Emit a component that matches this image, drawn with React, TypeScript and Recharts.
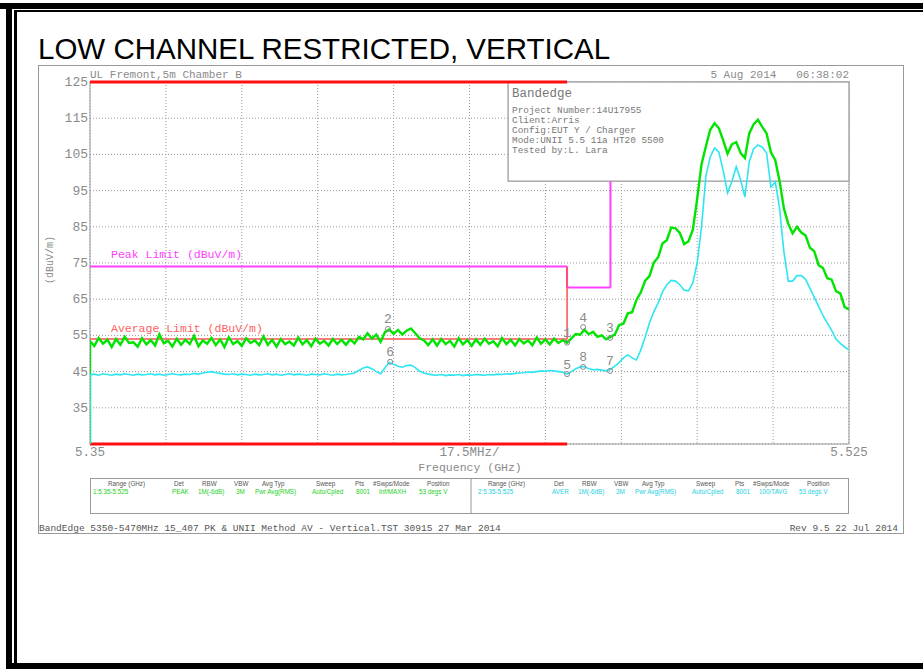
import React from 'react';
import {
  ComposedChart,
  Line,
  XAxis,
  YAxis,
  CartesianGrid,
  ReferenceLine,
  ReferenceArea,
  ReferenceDot,
} from 'recharts';

// sweep: 5.350 .. 5.525 GHz, one reading per MHz
const START_GHZ = 5.35;
const STEP_GHZ = 0.001;

// trace 1, peak detector (dBuV/m)
const PEAK_TRACE = [
  53.4, 52.1, 54.3, 52.7, 53.8, 51.8, 54.0, 52.4, 54.6, 52.9,
  53.1, 51.9, 54.2, 52.5, 53.7, 52.2, 55.3, 52.8, 53.5, 51.9,
  54.1, 52.4, 53.8, 52.6, 54.9, 52.0, 53.6, 52.7, 54.3, 52.3,
  53.9, 51.8, 54.5, 52.6, 53.4, 52.1, 54.2, 52.9, 53.6, 52.3,
  54.7, 52.4, 53.8, 51.9, 54.0, 52.6, 53.3, 52.2, 54.4, 52.5,
  53.7, 52.0, 54.1, 52.7, 53.5, 52.2, 54.0, 52.6, 53.8, 52.4,
  53.9, 52.8, 54.6, 53.9, 55.6, 54.1, 55.2, 53.2, 55.9, 56.6,
  55.4, 56.5, 55.2, 56.3, 56.9, 55.6, 54.2, 53.6, 52.3, 53.9,
  52.2, 54.0, 52.6, 53.5, 51.9, 54.2, 52.5, 53.7, 52.1, 53.9,
  52.4, 54.1, 52.7, 53.4, 52.0, 54.3, 52.6, 53.8, 52.2, 54.0,
  52.8, 53.6, 52.3, 54.4, 52.7, 53.9, 52.5, 54.1, 52.9, 53.7,
  53.0, 54.2, 55.4, 55.2, 56.6, 55.3, 56.0, 54.6, 55.0, 53.9,
  54.6, 55.2, 57.9, 58.2, 61.1, 61.4, 64.8, 66.9, 70.1, 71.4,
  75.1, 76.6, 80.4, 81.3, 84.8, 84.6, 83.3, 80.2, 81.0, 84.2,
  92.8, 102.3, 107.2, 111.8, 113.6, 112.2, 108.9, 105.2, 107.8, 108.4,
  105.4, 104.0, 110.8, 113.3, 114.6, 112.6, 110.8, 105.6, 103.4, 97.6,
  90.0, 85.8, 83.2, 85.0, 83.4, 82.6, 79.2, 78.2, 74.4, 73.6,
  70.8, 70.4, 67.2, 66.6, 62.8, 62.2,
];

// trace 2, average detector (dBuV/m)
const AVG_TRACE = [
  44.1, 44.3, 44.0, 44.4, 44.2, 44.0, 44.3, 44.1, 44.4, 44.2,
  44.0, 44.3, 44.1, 44.2, 44.4, 44.1, 44.3, 44.0, 44.2, 44.4,
  44.2, 44.1, 44.3, 44.2, 44.5, 44.3, 44.6, 44.8, 45.0, 44.7,
  44.5, 44.3, 44.2, 44.4, 44.1, 44.3, 44.2, 44.0, 44.3, 44.1,
  44.2, 44.4, 44.1, 44.3, 44.0, 44.2, 44.4, 44.1, 44.3, 44.2,
  44.0, 44.3, 44.2, 44.1, 44.4, 44.2, 44.0, 44.3, 44.1, 44.2,
  44.4, 44.6, 45.3, 46.0, 46.3, 45.8, 45.0, 44.4, 46.0, 47.6,
  47.0, 46.5, 46.2, 46.7, 46.8, 46.1, 45.1, 44.6, 44.3, 44.1,
  44.0, 44.2, 43.9, 44.1, 44.0, 44.2, 43.9, 44.1, 44.0, 44.2,
  44.1, 44.0, 44.2, 44.1, 44.3, 44.2, 44.4, 44.3, 44.5, 44.6,
  44.7, 44.9, 44.8, 45.0, 45.2, 45.1, 45.3, 45.2, 45.0, 44.8,
  44.3, 45.0, 45.8, 46.3, 46.4, 45.8, 45.5, 45.6, 45.4, 45.2,
  45.6, 46.5, 47.5, 48.8, 49.6, 48.8, 48.2, 51.0, 54.5, 58.5,
  61.5, 64.0, 67.0, 69.0, 70.2, 70.0, 69.0, 67.5, 67.3, 69.5,
  75.0, 85.0, 99.0, 104.3, 106.8, 105.6, 100.5, 94.3, 97.5, 101.6,
  98.0, 93.2, 103.0, 106.5, 107.6, 107.0, 105.4, 96.0, 97.4, 90.0,
  78.0, 70.0, 70.0, 71.5, 71.5, 70.5, 68.0, 65.5, 63.0, 60.5,
  58.4, 56.4, 54.0, 52.8, 51.8, 51.0,
];

const X_TICKS = [5.35, 5.3675, 5.385, 5.4025, 5.42, 5.4375, 5.455, 5.4725, 5.49, 5.5075, 5.525];
const X_TICK_LABELS = ['5.35', '', '', '', '', '17.5MHz/', '', '', '', '', '5.525'];
const Y_TICKS = [25, 35, 45, 55, 65, 75, 85, 95, 105, 115, 125];

// limit lines as [GHz, dBuV/m] corners
const PEAK_LIMIT = [[5.35, 74], [5.46, 74], [5.46, 68.2], [5.47, 68.2], [5.47, 97.6]];
const AVG_LIMIT = [[5.35, 54], [5.46, 54], [5.46, 74]];
const RESTRICTED_TOP = [[5.35, 125], [5.46, 125]];
const RESTRICTED_BOTTOM = [[5.35, 25], [5.46, 25]];

const MARKERS = [
  { id: '1', f: 5.46, v: 53.0 },
  { id: '2', f: 5.4187, v: 56.8 },
  { id: '3', f: 5.4699, v: 54.3 },
  { id: '4', f: 5.4637, v: 57.3 },
  { id: '5', f: 5.46, v: 44.3 },
  { id: '6', f: 5.4192, v: 47.7 },
  { id: '7', f: 5.4699, v: 45.2 },
  { id: '8', f: 5.4637, v: 46.3 },
];

const INFO_BOX = { f1: 5.4464, f2: 5.525, v1: 97.6, v2: 125 };
const INFO_TITLE = 'Bandedge';
const INFO_LINES = [
  'Project Number:14U17955',
  'Client:Arris',
  'Config:EUT Y / Charger',
  'Mode:UNII 5.5 11a HT20 5500',
  'Tested by:L. Lara',
];

const TABLE_HEADERS = ['Range (GHz)', 'Det', 'RBW', 'VBW', 'Avg Typ', 'Sweep', 'Pts', '#Swps/Mode', 'Position'];
const TABLE_PEAK = ['1:5.35-5.525', 'PEAK', '1M(-6dB)', '3M', 'Pwr Avg(RMS)', 'Auto/Cpled', '8001', 'Inf/MAXH', '53 degs V'];
const TABLE_AVG = ['2:5.35-5.525', 'AVER', '1M(-6dB)', '3M', 'Pwr Avg(RMS)', 'Auto/Cpled', '8001', '100/TAVG', '53 degs V'];

const HEAD_X = [108, 174, 202, 234, 262, 316, 355, 373, 427];
const VAL_X = [93, 172, 198, 236, 255, 312, 356, 379, 419];

const GREEN = '#00e400';
const CYAN = '#2ee6f2';
const RED = '#ff1010';
const MAGENTA = '#ff40ff';
const GREY = '#8a8a8a';
const MONO = '"Liberation Mono", "DejaVu Sans Mono", monospace';
const SANS = '"Liberation Sans", Arial, sans-serif';

const rows = [
  { f: START_GHZ, pk: 25, av: 25 },
  ...PEAK_TRACE.map((pk, i) => ({ f: START_GHZ + i * STEP_GHZ, pk, av: AVG_TRACE[i] })),
];

const segments = (pts: number[][]) =>
  pts.slice(1).map((p, i) => [
    { x: pts[i][0], y: pts[i][1] },
    { x: p[0], y: p[1] },
  ]);

const YTick = (props: any) => {
  const { x, y, payload } = props;
  if (payload.value === 25) return <g />;
  return (
    <text x={x} y={y} dy={4} textAnchor="end" fill={GREY} fontSize={13} fontFamily={MONO}>
      {payload.value}
    </text>
  );
};

const XTick = (props: any) => {
  const { x, y, payload } = props;
  const idx = X_TICKS.indexOf(payload.value);
  const label = idx >= 0 ? X_TICK_LABELS[idx] : '';
  return (
    <text x={x} y={y} dy={12} textAnchor="middle" fill={GREY} fontSize={12.5} fontFamily={MONO}>
      {label}
    </text>
  );
};

const InfoBox = (props: any) => {
  const { x, y, width, height } = props;
  return (
    <g>
      <rect x={x} y={y} width={width} height={height} fill="#fff" stroke="#aaa" strokeWidth={1.5} />
      <text x={x + 4} y={y + 15} fill="#777" fontSize={12.5} fontFamily={MONO}>{INFO_TITLE}</text>
      {INFO_LINES.map((t, i) => (
        <text key={i} x={x + 4} y={y + 31 + i * 10} fill="#777" fontSize={9.4} fontFamily={MONO}>{t}</text>
      ))}
    </g>
  );
};

const Backdrop = () => (
  <svg width={923} height={669} style={{ position: 'absolute', left: 0, top: 0 }}>
    <rect x={0} y={0} width={923} height={669} fill="#fff" />
    {/* outer black frame */}
    <rect x={0} y={3} width={923} height={6} fill="#000" />
    <rect x={6} y={3} width={6} height={666} fill="#000" />
    <rect x={6} y={663} width={917} height={6} fill="#000" />
    <rect x={14} y={10} width={909} height={2} fill="#000" />
    <rect x={14} y={10} width={3} height={655} fill="#000" />

    <text x={38} y={59} fontSize={29.5} fontFamily={SANS} fill="#000">
      LOW CHANNEL RESTRICTED, VERTICAL
    </text>

    <rect x={38.5} y={65.5} width={865} height={468} fill="none" stroke="#999" />
    <rect x={90} y={82} width={759} height={362} fill="none" stroke="#999" />

    <text x={90} y={78} fill={GREY} fontSize={11} fontFamily={MONO}>UL Fremont,5m Chamber B</text>
    <text x={849} y={78} textAnchor="end" fill={GREY} fontSize={11} fontFamily={MONO} style={{ whiteSpace: 'pre' }}>
      5 Aug 2014   06:38:02
    </text>
    <text x={53} y={260} transform="rotate(-90 53 260)" textAnchor="middle" fill={GREY} fontSize={10} fontFamily={MONO}>
      (dBuV/m)
    </text>
    <text x={111} y={258} fill={MAGENTA} fontSize={11.5} fontFamily={MONO}>Peak Limit (dBuV/m)</text>
    <text x={111} y={332} fill="#ff6060" fontSize={11.5} fontFamily={MONO}>Average Limit (dBuV/m)</text>
    <text x={470} y={471} textAnchor="middle" fill={GREY} fontSize={11.5} fontFamily={MONO}>Frequency (GHz)</text>

    <rect x={90.5} y={478.5} width={758} height={35} fill="none" stroke="#999" />
    <line x1={471} y1={478.5} x2={471} y2={513.5} stroke="#999" />
    {[0, 380].map((off, h) => (
      <g key={h}>
        {TABLE_HEADERS.map((t, i) => (
          <text key={i} x={HEAD_X[i] + off} y={486} fill="#555" fontSize={6.3} fontFamily={SANS}>{t}</text>
        ))}
        {(h === 0 ? TABLE_PEAK : TABLE_AVG).map((t, i) => (
          <text key={i} x={i === 0 && h === 1 ? 478 : VAL_X[i] + off} y={494} fill={h === 0 ? '#22d022' : '#22d0e0'} fontSize={6.3} fontFamily={SANS}>{t}</text>
        ))}
      </g>
    ))}

    <text x={39} y={531} fill="#555" fontSize={9.5} fontFamily={MONO}>
      BandEdge 5350-5470MHz 15_407 PK &amp; UNII Method AV - Vertical.TST 30915 27 Mar 2014
    </text>
    <text x={898} y={531} textAnchor="end" fill="#555" fontSize={9.5} fontFamily={MONO}>Rev 9.5 22 Jul 2014</text>
  </svg>
);

export default function App() {
  return (
    <div style={{ position: 'absolute', left: 0, top: 0, width: 923, height: 669 }}>
      <Backdrop />
      <div style={{ position: 'absolute', left: 0, top: 0 }}>
        <ComposedChart width={923} height={669} data={rows} margin={{ top: 82, right: 74, bottom: 195, left: 40 }}>
          <CartesianGrid stroke="#999" strokeDasharray="1 2" />
          <XAxis
            type="number"
            dataKey="f"
            domain={[5.35, 5.525]}
            ticks={X_TICKS}
            height={30}
            axisLine={false}
            tickLine={false}
            tickSize={0}
            tickMargin={0}
            tick={<XTick />}
            allowDataOverflow
          />
          <YAxis
            type="number"
            domain={[25, 125]}
            ticks={Y_TICKS}
            width={50}
            axisLine={false}
            tickLine={false}
            tickSize={0}
            tickMargin={2}
            tick={<YTick />}
            allowDataOverflow
          />
          {segments(PEAK_LIMIT).map((s, i) => (
            <ReferenceLine key={'pk' + i} segment={s} stroke={MAGENTA} strokeWidth={2} />
          ))}
          {segments(AVG_LIMIT).map((s, i) => (
            <ReferenceLine key={'av' + i} segment={s} stroke="#ff5050" strokeWidth={1.5} />
          ))}
          <ReferenceArea
            x1={INFO_BOX.f1}
            x2={INFO_BOX.f2}
            y1={INFO_BOX.v1}
            y2={INFO_BOX.v2}
            shape={<InfoBox />}
          />
          {[...segments(RESTRICTED_TOP), ...segments(RESTRICTED_BOTTOM)].map((s, i) => (
            <ReferenceLine key={'rb' + i} segment={s} stroke={RED} strokeWidth={3} />
          ))}
          <Line type="linear" dataKey="pk" stroke={GREEN} strokeWidth={2.4} dot={false} isAnimationActive={false} />
          <Line type="linear" dataKey="av" stroke={CYAN} strokeWidth={1.6} dot={false} isAnimationActive={false} />
          {MARKERS.map((m) => (
            <ReferenceDot
              key={m.id}
              x={m.f}
              y={m.v}
              r={2.5}
              fill="none"
              stroke={GREY}
              strokeWidth={1}
              label={{ value: m.id, position: 'top', offset: 3, fill: GREY, fontSize: 13, fontFamily: MONO }}
            />
          ))}
        </ComposedChart>
      </div>
    </div>
  );
}
